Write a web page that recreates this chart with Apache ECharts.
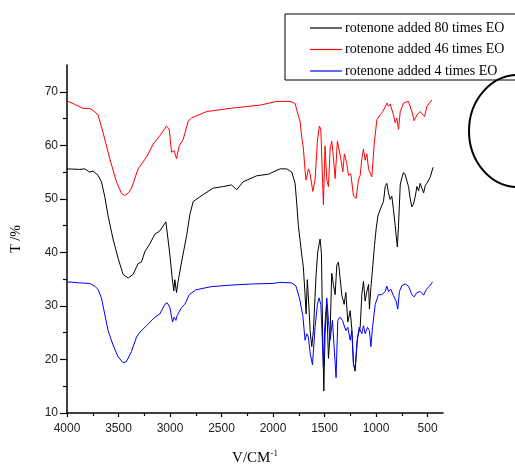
<!DOCTYPE html>
<html>
<head>
<meta charset="utf-8">
<script src="https://cdn.jsdelivr.net/npm/echarts@6/dist/echarts.min.js"></script>
<style>html,body{margin:0;padding:0;background:#fff;}#c{width:515px;height:471px;}</style>
</head>
<body>
<div id="c"></div>
<script>
var seriesNames = ['rotenone added 80 times EO', 'rotenone added 46 times EO', 'rotenone added 4 times EO'];
var xMajorTicks = [4000, 3500, 3000, 2500, 2000, 1500, 1000, 500];
var xMinorTicks = [3750, 3250, 2750, 2250, 1750, 1250, 750];
var yMajorTicks = [10, 20, 30, 40, 50, 60, 70];
var yMinorTicks = [15, 25, 35, 45, 55, 65];

var blackX = [4000,3877,3828,3779,3747,3699,3666,3634,3601,3553,3504,3456,3407,3358,3310,3277,3245,3196,3147,3099,3040,3028,3001,2979,2963,2953,2937,2921,2888,2839,2807,2775,2678,2581,2483,2402,2386,2353,2289,2159,2046,1932,1867,1818,1786,1770,1754,1745,1721,1706,1689,1679,1667,1653,1640,1624,1608,1582,1566,1543,1530,1517,1507,1495,1478,1462,1446,1430,1414,1397,1381,1365,1349,1333,1310,1293,1274,1251,1235,1219,1203,1180,1154,1138,1122,1106,1089,1073,1064,1050,1031,1015,999,982,960,928,911,895,879,863,847,831,814,793,782,765,749,733,717,700,685,668,652,636,619,603,587,571,555,538,522,506,490,473,457,445];
var blackY = [55.6,55.5,55.6,55.0,55.2,54.4,53.2,50.5,46.8,42.5,38.9,35.9,35.2,35.9,37.9,38.2,40.1,41.6,43.4,44.0,45.7,45.6,39.5,35.2,32.8,34.9,32.5,34.6,38.2,43.1,47.1,49.5,50.8,52.0,52.3,52.6,52.3,51.7,53.2,54.3,54.6,55.6,55.6,55.0,52.9,49.2,45.0,45.3,39.5,37.3,32.1,28.5,34.9,30.3,25.4,22.4,25.4,35.8,40.1,42.5,39.8,23.0,14.1,24.8,30.3,20.2,24.8,36.1,34.0,32.1,37.6,38.2,35.2,32.1,30.3,32.5,27.0,29.1,25.7,19.3,17.8,24.2,26.0,32.1,34.6,30.9,32.7,34.0,29.4,33.4,37.6,41.3,44.4,46.8,48.0,49.5,52.3,52.9,51.1,49.9,50.5,48.0,45.0,41.0,45.0,52.6,54.0,54.9,54.5,54.3,52.3,50.0,48.5,49.0,50.5,52.3,51.5,52.9,52.0,51.1,52.5,52.9,53.5,54.1,55.2,55.9];

var redX = [4000,3920,3844,3779,3740,3699,3650,3585,3520,3470,3439,3400,3374,3310,3228,3164,3099,3034,3008,2985,2960,2937,2911,2872,2824,2791,2645,2418,2126,1964,1835,1786,1754,1738,1721,1706,1689,1679,1657,1640,1614,1592,1569,1550,1536,1511,1495,1478,1462,1446,1430,1414,1397,1375,1356,1339,1323,1307,1284,1268,1245,1219,1193,1171,1154,1138,1122,1106,1089,1073,1057,1041,1018,992,960,934,911,895,879,863,831,814,798,782,765,733,685,652,630,603,571,529,506,490,457];
var redY = [68.3,67.6,66.9,66.9,66.4,65.7,62.4,57.5,53.2,51.0,50.6,51.2,52.0,55.6,57.8,60.2,61.8,63.6,63.0,58.7,59.0,57.5,59.9,61.1,64.5,65.1,66.3,66.9,67.5,68.2,68.2,67.8,65.5,64.5,61.5,59.6,55.3,53.5,55.6,54.7,51.4,53.5,60.8,63.6,63.0,48.9,59.9,53.5,52.3,59.3,60.8,57.8,53.8,60.8,60.5,57.2,55.0,58.4,56.6,54.4,54.7,50.5,50.1,53.5,54.4,57.5,59.3,57.2,58.4,55.6,55.9,54.1,60.2,64.8,65.7,66.3,67.2,67.9,67.3,67.7,65.7,64.2,65.1,63.0,66.3,67.9,68.2,66.3,64.6,65.7,66.3,65.4,67.3,67.1,68.5];

var blueX = [4000,3877,3779,3731,3699,3666,3634,3601,3553,3504,3456,3423,3374,3325,3293,3228,3147,3099,3050,3028,3001,2976,2960,2943,2931,2888,2856,2814,2750,2600,2400,2200,2000,1935,1818,1777,1744,1711,1689,1672,1657,1640,1617,1592,1569,1553,1536,1520,1511,1498,1478,1462,1446,1423,1404,1388,1371,1349,1326,1310,1293,1274,1251,1235,1219,1203,1186,1164,1138,1122,1106,1083,1064,1050,1034,1008,976,944,911,895,879,856,831,805,789,773,749,717,685,652,630,603,571,538,512,480,451];
var blueY = [34.5,34.3,34.2,33.7,33.1,31.5,28.5,25.4,22.7,20.5,19.4,19.6,21.5,24.2,25.1,26.3,27.9,28.5,30.3,30.6,29.7,27.0,27.9,27.3,28.2,29.7,30.3,32.1,33.0,33.6,33.9,34.1,34.2,34.4,34.3,33.7,31.5,28.2,23.6,24.8,24.2,21.2,19.0,26.0,30.3,31.5,30.3,23.0,18.7,26.0,31.5,27.3,23.6,27.3,27.0,16.6,27.3,27.9,27.3,27.5,25.4,26.0,23.6,25.4,19.0,18.1,23.0,26.0,24.8,26.3,24.8,26.0,25.4,22.4,26.0,30.3,32.1,32.1,32.7,33.7,32.7,33.1,31.9,30.9,29.4,32.7,33.8,34.1,33.7,32.1,31.7,32.5,32.7,32.0,33.1,33.7,34.5];

function pairs(xs, ys) { return xs.map(function (x, i) { return [x, ys[i]]; }); }

var chart = echarts.init(document.getElementById('c'), null, {renderer: 'canvas'});
var labelFont = {fontFamily: 'Liberation Sans', fontSize: 12, color: '#222', formatter: function (v) { return String(v); }};
var baseX = {type: 'value', min: 350, max: 4000, inverse: true, position: 'bottom', splitLine: {show: false}};
var baseY = {type: 'value', min: 10, max: 75, position: 'left', splitLine: {show: false}};

chart.setOption({
  backgroundColor: '#fff',
  animation: false,
  grid: {left: 67, right: 72, top: 65, bottom: 50.5},
  legend: {
    data: seriesNames,
    orient: 'vertical',
    left: 285, top: 14,
    padding: [7, 20, 2, 25],
    itemGap: 7.5,
    icon: 'path://M0,6.4L32,6.4L32,7.6L0,7.6Z',
    itemWidth: 32, itemHeight: 14,
    borderColor: '#000', borderWidth: 1,
    textStyle: {fontFamily: 'Liberation Serif', fontSize: 14, color: '#000', padding: [0, 0, 0, -2]}
  },
  xAxis: [
    Object.assign({}, baseX, {
      name: '{a|V/CM}{s|-1}', nameLocation: 'middle', nameGap: 36,
      nameTextStyle: {rich: {a: {fontFamily: 'Liberation Serif', fontSize: 15, color: '#000', verticalAlign: 'bottom'}, s: {fontFamily: 'Liberation Serif', fontSize: 9, color: '#000', verticalAlign: 'top', padding: [0, 0, 8, 0]}}},
      axisLine: {show: true, lineStyle: {color: '#000', width: 1.5}},
      axisTick: {show: true, length: 4, customValues: xMajorTicks, lineStyle: {color: '#000', width: 1.2}},
      axisLabel: Object.assign({margin: 10, customValues: xMajorTicks}, labelFont)
    }),
    Object.assign({}, baseX, {
      axisLine: {show: false},
      axisTick: {show: true, length: 3, customValues: xMinorTicks, lineStyle: {color: '#000', width: 1.2}},
      axisLabel: {show: false}
    })
  ],
  yAxis: [
    Object.assign({}, baseY, {
      name: 'T /%', nameLocation: 'middle', nameGap: 44, nameRotate: 90,
      nameTextStyle: {fontFamily: 'Liberation Serif', fontSize: 14, color: '#000'},
      axisLine: {show: true, lineStyle: {color: '#000', width: 1.5}},
      axisTick: {show: true, length: 7, customValues: yMajorTicks, lineStyle: {color: '#000', width: 1.2}},
      axisLabel: Object.assign({margin: 9, customValues: yMajorTicks}, labelFont)
    }),
    Object.assign({}, baseY, {
      axisLine: {show: false},
      axisTick: {show: true, length: 4, customValues: yMinorTicks, lineStyle: {color: '#000', width: 1.2}},
      axisLabel: {show: false}
    })
  ],
  series: [
    {name: seriesNames[0], type: 'line', data: pairs(blackX, blackY), symbol: 'none', lineStyle: {color: '#000', width: 1}, itemStyle: {color: '#000'}},
    {name: seriesNames[1], type: 'line', data: pairs(redX, redY), symbol: 'none', lineStyle: {color: '#ff0000', width: 1}, itemStyle: {color: '#ff0000'}},
    {name: seriesNames[2], type: 'line', data: pairs(blueX, blueY), symbol: 'none', lineStyle: {color: '#0000ff', width: 1}, itemStyle: {color: '#0000ff'}}
  ],
  graphic: [
    {type: 'ellipse', shape: {cx: 518, cy: 131, rx: 49, ry: 56}, style: {fill: 'none', stroke: '#000', lineWidth: 2}, z: 100}
  ]
});
</script>
</body>
</html>
